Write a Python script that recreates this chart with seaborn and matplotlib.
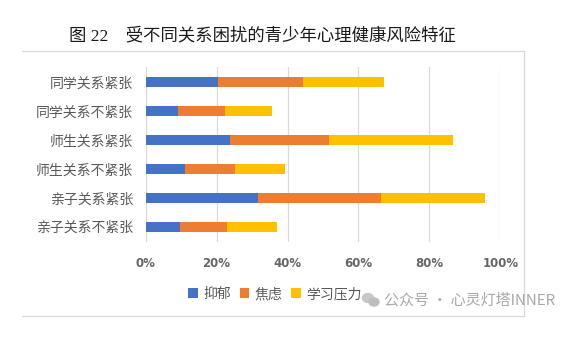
import matplotlib
matplotlib.use("Agg")
import matplotlib.pyplot as plt
import seaborn as sns
import numpy as np
import pandas as pd
from matplotlib.lines import Line2D
from matplotlib.patches import Patch, Ellipse

categories = ["同学关系紧张", "同学关系不紧张", "师生关系紧张", "师生关系不紧张", "亲子关系紧张", "亲子关系不紧张"]
depression = [20.4, 9.0, 23.8, 11.1, 31.7, 9.7]
anxiety = [24.0, 13.5, 27.8, 14.1, 34.6, 13.1]
study_pressure = [22.7, 13.2, 35.2, 14.0, 29.5, 14.2]
series_names = ["抑郁", "焦虑", "学习压力"]
colors = ["#4472C4", "#ED7D31", "#FFC000"]
x_ticks = [0, 20, 40, 60, 80, 100]
x_ticklabels = ["0%", "20%", "40%", "60%", "80%", "100%"]
title = "图 22    受不同关系困扰的青少年心理健康风险特征"
watermark = "公众号 · 心灵灯塔INNER"

sns.set_theme(style="white")
plt.rcParams["font.family"] = ["Noto Sans CJK SC", "DejaVu Sans"]

df = pd.DataFrame({"cat": categories, "d": depression, "a": anxiety, "s": study_pressure})
df["c1"] = df["d"]
df["c2"] = df["d"] + df["a"]
df["c3"] = df["d"] + df["a"] + df["s"]

fig = plt.figure(figsize=(5.78, 3.40), dpi=100)
ax = fig.add_axes([145.7 / 578, 1 - 241.7 / 340, (500.3 - 145.7) / 578, (241.7 - 67) / 340])

for col, c in zip(["c3", "c2", "c1"], colors[::-1]):
    sns.barplot(data=df, x=col, y="cat", orient="h", color=c, width=0.35,
                saturation=1, ax=ax, zorder=3, linewidth=0, edgecolor="none")

ax.set_xlim(0, 100)
ax.set_ylim(5.52, -0.53)
ax.set_xticks(x_ticks)
ax.set_xticklabels(x_ticklabels, color="#666666", fontsize=8.5, fontweight="bold",
                   family=["DejaVu Sans"])
ax.tick_params(axis="both", length=0, pad=11)
ax.tick_params(axis="y", pad=9)
for lbl in ax.get_yticklabels():
    lbl.set_color("#595959")
    lbl.set_fontsize(10)
ax.set_xlabel("")
ax.set_ylabel("")
ax.grid(axis="x", color="#D9D9D9", linewidth=0.9, zorder=0)
ax.set_axisbelow(True)
for sp in ax.spines.values():
    sp.set_visible(False)

# Title
fig.text(262.5 / 578, 1 - 36 / 340, title, ha="center", va="center", fontsize=12.5,
         color="#1a1a1a", family=["Liberation Serif", "Noto Sans CJK SC"])

# Chart frame (top, right, bottom)
fx0, fx1 = 22 / 578, 524 / 578
fy0, fy1 = 1 - 316 / 340, 1 - 51 / 340
for xs, ys in [([fx0, fx1], [fy1, fy1]), ([fx1, fx1], [fy0, fy1]), ([fx0, fx1], [fy0, fy0])]:
    fig.add_artist(Line2D(xs, ys, color="#D9D9D9", linewidth=0.9, transform=fig.transFigure))

# Legend
handles = [Patch(facecolor=c, edgecolor="none") for c in colors]
leg = fig.legend(handles, series_names, loc="center", bbox_to_anchor=(275 / 578, 1 - 294 / 340),
                 ncol=3, frameon=False, fontsize=10, handlelength=0.7, handleheight=0.7,
                 handletextpad=0.4, columnspacing=0.6, borderpad=0)
for t in leg.get_texts():
    t.set_color("#595959")

# Watermark
fig.add_artist(Ellipse((368 / 578, 1 - 298 / 340), 11 / 578, 9 / 340, color="#C8C8C8",
                       transform=fig.transFigure))
fig.add_artist(Ellipse((374 / 578, 1 - 302 / 340), 10 / 578, 8 / 340, color="#BEBEBE",
                       transform=fig.transFigure))
fig.text(384 / 578, 1 - 300 / 340, watermark, ha="left", va="center", fontsize=10.8,
         color="#A8A8A8")

fig.savefig("out.png", dpi=100, facecolor="white")
